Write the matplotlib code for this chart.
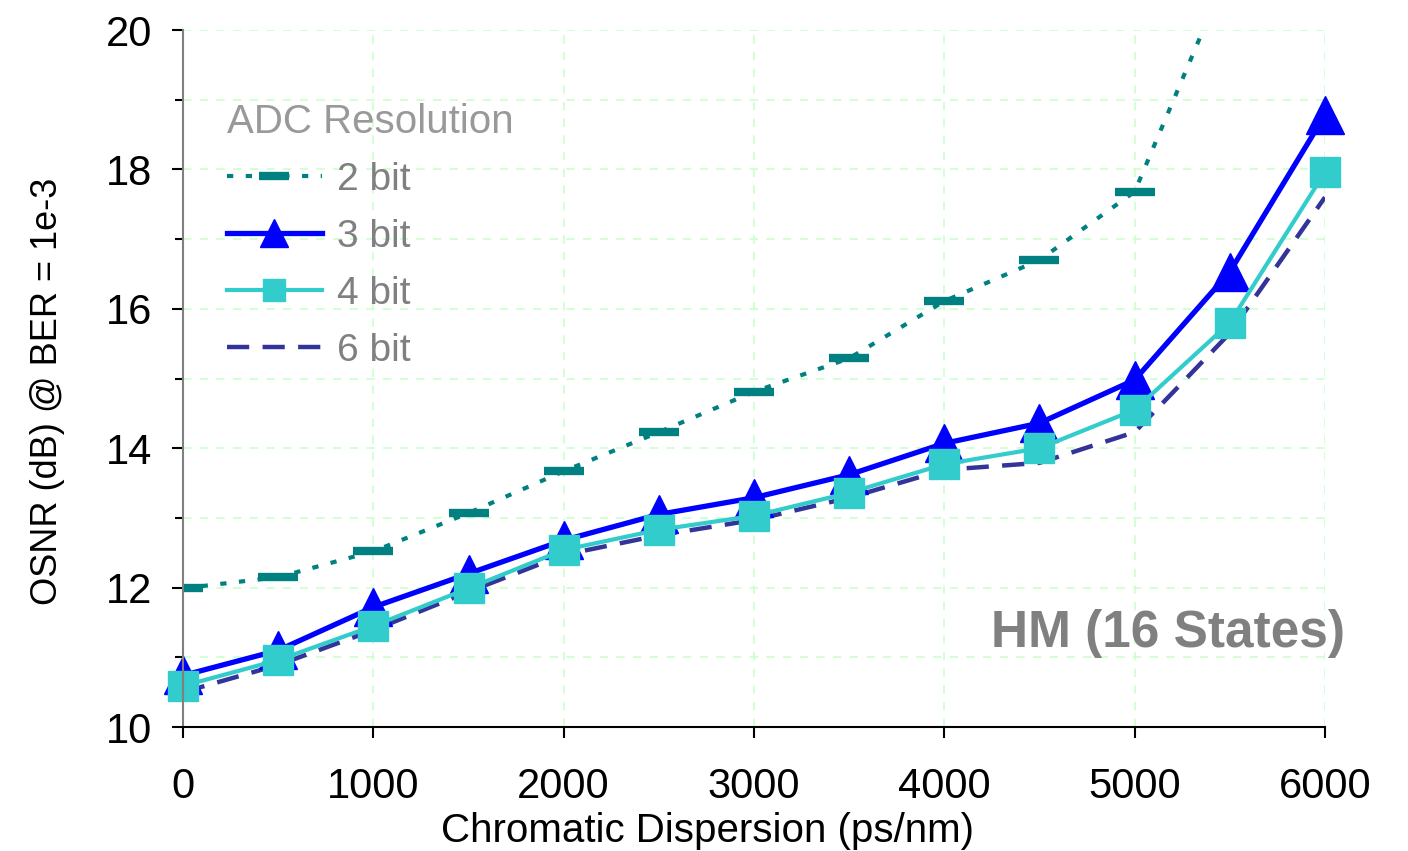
import numpy as np
import matplotlib.pyplot as plt
from matplotlib.ticker import MultipleLocator

plt.rcParams['font.family'] = ['Liberation Sans', 'DejaVu Sans']

# chromatic dispersion (ps/nm)
cd = [0, 500, 1000, 1500, 2000, 2500, 3000, 3500, 4000, 4500, 5000, 5500, 6000]

# OSNR (dB) @ BER = 1e-3 for each ADC resolution
osnr_2bit = [11.99, 12.15, 12.52, 13.07, 13.67, 14.23, 14.81, 15.29, 16.11, 16.70, 17.68, 20.9]
osnr_3bit = [10.74, 11.10, 11.72, 12.20, 12.68, 13.05, 13.29, 13.62, 14.07, 14.36, 14.98, 16.53, 18.78]
osnr_4bit = [10.59, 10.96, 11.45, 11.99, 12.54, 12.83, 13.03, 13.36, 13.77, 14.00, 14.55, 15.80, 17.96]
osnr_6bit = [10.50, 10.89, 11.39, 11.94, 12.47, 12.75, 12.97, 13.29, 13.69, 13.79, 14.23, 15.65, 17.60]

fig = plt.figure(figsize=(14.08, 8.51), dpi=100)
ax = fig.add_axes([0.130, 0.1457, 0.811, 0.819])

gray = '#808080'

ax.plot(cd[:len(osnr_2bit)], osnr_2bit, color='#008080', lw=3, linestyle=(0, (1.5, 3)),
        marker='_', ms=29, mew=6, label='2 bit', clip_on=True)
ax.plot(cd, osnr_3bit, color='#0000FF', lw=3.8, marker='^', ms=27, label='3 bit', clip_on=False)
ax.plot(cd, osnr_4bit, color='#33CCCC', lw=3, marker='s', ms=22, label='4 bit', clip_on=False)
ax.plot(cd, osnr_6bit, color='#333399', lw=3.2, linestyle=(0, (5, 3)), label='6 bit', zorder=1.9)

ax.set_xlim(0, 6000)
ax.set_ylim(10, 20)
ax.xaxis.set_major_locator(MultipleLocator(1000))
ax.yaxis.set_major_locator(MultipleLocator(2))
ax.yaxis.set_minor_locator(MultipleLocator(1))

ax.grid(True, which='major', axis='x', color='#CCFFCC', linestyle=(0, (5, 5)), lw=1.2)
ax.grid(True, which='both', axis='y', color='#CCFFCC', linestyle=(0, (5, 5)), lw=1.2)
ax.set_axisbelow(True)

for s in ['top', 'right']:
    ax.spines[s].set_visible(False)
ax.spines['left'].set_color(gray)
ax.spines['left'].set_linewidth(1.5)
ax.spines['bottom'].set_linewidth(1.5)

ax.tick_params(axis='both', which='major', labelsize=30, length=8, width=1.5)
ax.tick_params(axis='y', which='minor', length=6, width=1.5)
ax.tick_params(axis='x', pad=21)
ax.tick_params(axis='y', pad=14)

ax.set_xlabel('Chromatic Dispersion (ps/nm)', fontsize=29)
ax.xaxis.set_label_coords(0.459, -0.122)
ax.set_ylabel('OSNR (dB) @ BER = 1e-3', fontsize=26)
ax.yaxis.set_label_coords(-0.103, 0.482)

leg = ax.legend(title='ADC Resolution', loc='upper left', bbox_to_anchor=(0.0075, 0.946),
                frameon=False, fontsize=28, title_fontsize=29, labelcolor=gray,
                handlelength=2.45, markerscale=0.75, alignment='left', labelspacing=0.54,
                handletextpad=0.4)
leg.get_title().set_color('#999999')

ax.text(1.018, 0.1335, 'HM (16 States)', transform=ax.transAxes, ha='right', va='center',
        fontsize=37, fontweight='bold', color=gray)

fig.savefig('out.png', dpi=100)
